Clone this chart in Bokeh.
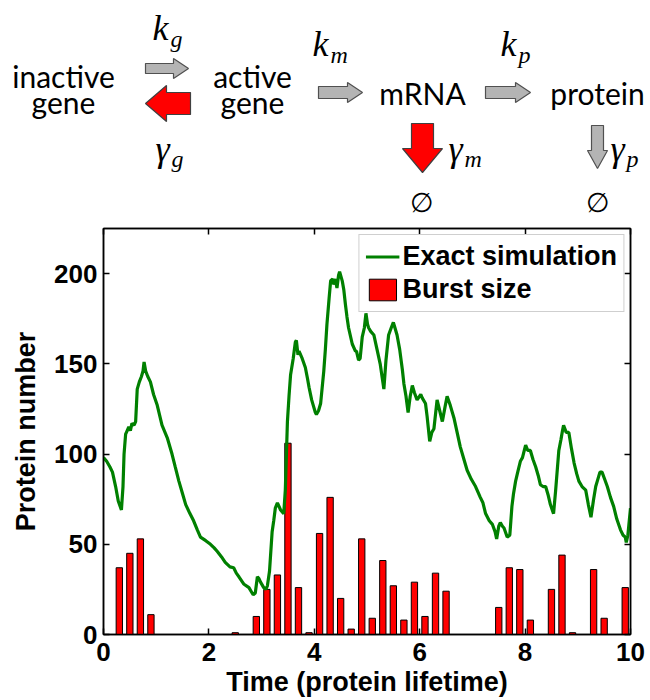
from bokeh.plotting import figure
from bokeh.models import (Range1d, LinearAxis, FixedTicker, Legend, LegendItem)
from bokeh.core.properties import value
from bokeh.embed import file_html
from bokeh.resources import INLINE

# ---------------- data ----------------
sim_time = [0.00, 0.06, 0.12, 0.17, 0.23, 0.28, 0.34, 0.37, 0.39, 0.42, 0.45, 0.48, 0.51, 0.54,
            0.58, 0.61, 0.64, 0.68, 0.72, 0.75, 0.77, 0.80, 0.84, 0.89, 0.95, 1.02, 1.11, 1.21,
            1.30, 1.36, 1.43, 1.50, 1.56, 1.64, 1.71, 1.78, 1.84, 1.94, 2.03, 2.10, 2.16, 2.24,
            2.31, 2.40, 2.47, 2.52, 2.57, 2.66, 2.76, 2.80, 2.84, 2.88, 2.92, 2.95, 2.98, 3.04,
            3.08, 3.11, 3.15, 3.20, 3.23, 3.26, 3.30, 3.36, 3.42, 3.45, 3.49, 3.52, 3.55, 3.60,
            3.64, 3.66, 3.69, 3.71, 3.77, 3.83, 3.87, 3.90, 3.95, 3.99, 4.02, 4.04, 4.08, 4.12,
            4.18, 4.21, 4.24, 4.28, 4.31, 4.35, 4.37, 4.40, 4.43, 4.46, 4.48, 4.53, 4.56, 4.59,
            4.62, 4.65, 4.72, 4.78, 4.80, 4.84, 4.87, 4.91, 4.95, 4.98, 5.01, 5.03, 5.07, 5.13,
            5.19, 5.25, 5.30, 5.32, 5.36, 5.41, 5.46, 5.50, 5.53, 5.57, 5.62, 5.67, 5.70, 5.74,
            5.78, 5.82, 5.86, 5.90, 5.95, 6.02, 6.05, 6.11, 6.14, 6.19, 6.23, 6.27, 6.33, 6.38,
            6.43, 6.48, 6.52, 6.58, 6.65, 6.71, 6.77, 6.84, 6.90, 6.98, 7.06, 7.15, 7.20, 7.25,
            7.32, 7.38, 7.43, 7.46, 7.50, 7.53, 7.57, 7.60, 7.66, 7.71, 7.73, 7.75, 7.78, 7.82,
            7.86, 7.91, 7.95, 8.01, 8.05, 8.10, 8.15, 8.20, 8.25, 8.29, 8.34, 8.39, 8.44, 8.48,
            8.54, 8.58, 8.64, 8.68, 8.71, 8.73, 8.78, 8.83, 8.88, 8.93, 8.98, 9.02, 9.08, 9.15,
            9.20, 9.25, 9.30, 9.34, 9.37, 9.42, 9.46, 9.51, 9.56, 9.62, 9.68, 9.74, 9.81, 9.86,
            9.90, 9.92, 9.95, 9.97, 10.00]
sim_protein = [98, 96, 93, 90, 82, 74, 69, 82, 100, 111, 113, 115, 113, 117,
               116, 118, 136, 140, 143, 146, 151, 146, 143, 140, 133, 127, 116, 109,
               100, 93, 85, 78, 72, 67, 63, 58, 54, 52, 50, 48, 46, 43,
               40, 37.5, 37, 34, 32, 28, 26, 24, 22, 23, 32, 31, 29, 26,
               25, 27, 35, 57, 63, 70, 73, 69, 67, 80, 118, 132, 144, 153,
               162, 163, 155, 157, 153, 148, 142, 137, 130, 126, 123, 122, 124, 128,
               146, 158, 172, 186, 196, 197, 194, 197, 192, 199, 201, 196, 191, 183,
               176, 170, 161, 157, 157, 152, 153, 165, 170, 178, 172, 170, 168, 166,
               158, 150, 140, 136, 152, 166, 170, 173, 170, 166, 158, 147, 139, 132,
               123, 132, 138, 134, 130, 133, 131, 128, 121, 107, 112, 114, 130, 124,
               118, 126, 132, 127, 120, 112, 104, 97, 91, 86, 82, 76, 73, 67,
               63, 61, 57, 53, 60, 62, 60, 59, 54, 55, 63, 71, 78, 85,
               90, 96, 98, 105, 102, 102, 97, 93, 88, 83, 82, 82, 77, 72,
               67, 80, 102, 108, 113, 116, 112, 112, 103, 95, 89, 85, 82, 80,
               72, 65, 75, 82, 85, 90, 90, 86, 82, 76, 71, 64, 58, 55,
               54, 51, 55, 61, 70]

burst_time = [0.3, 0.5, 0.7, 0.9, 2.5, 2.9, 3.1, 3.3, 3.5, 3.7, 3.9, 4.1, 4.3, 4.5, 4.7, 4.9,
              5.1, 5.3, 5.5, 5.7, 5.9, 6.1, 6.3, 6.5, 7.5, 7.7, 7.9, 8.1, 8.5, 8.7, 8.9,
              9.3, 9.5, 9.9]
burst_size = [37, 45, 53, 11, 1, 10, 25, 33, 106, 26, 1, 56, 76, 20, 3, 53,
              9, 41, 27, 8, 29, 10, 34, 24, 15, 37, 36, 8, 25, 44, 1,
              36, 9, 26]

x_ticks = [0, 2, 4, 6, 8, 10]
y_ticks = [0, 50, 100, 150, 200]
series_names = ["Exact simulation", "Burst size"]

# ---------------- reaction scheme (top, separate root so frames are not aligned) ----------------
top = figure(width=650, height=220, x_range=Range1d(0, 650), y_range=Range1d(220, 0),
             toolbar_location=None, output_backend="svg", min_border=0,
             x_axis_location=None, y_axis_location=None)
top.grid.visible = False
top.outline_line_color = None


def harrow(x0, x1, xh, cy, sh, hh):
    return ([x0, xh, xh, x1, xh, xh, x0], [cy - sh, cy - sh, cy - hh, cy, cy + hh, cy + sh, cy + sh])


def varrow(cx, y0, y1, yh, sh, hh):
    return ([cx - sh, cx - sh, cx - hh, cx, cx + hh, cx + sh, cx + sh], [y0, yh, yh, y1, yh, yh, y0])


gray_arrows = [harrow(145, 188, 173, 68, 5, 10), harrow(318, 362, 347, 92, 6, 10),
               harrow(485, 530, 515, 92, 6, 10), varrow(597, 125, 168, 150, 6, 10)]
red_arrows = [harrow(190, 145, 166, 103, 11, 18), varrow(422, 123, 172, 148, 11, 20)]
top.patches([a[0] for a in gray_arrows], [a[1] for a in gray_arrows],
            fill_color="#b4b4b4", line_color="#505050", line_width=1.2)
top.patches([a[0] for a in red_arrows], [a[1] for a in red_arrows],
            fill_color="#ff0000", line_color="#404040", line_width=1.2)

species_x = [63, 63, 252, 252, 422, 597]
species_y = [75, 101, 75, 101, 92, 92]
species_text = ["inactive", "gene", "active", "gene", "mRNA", "protein"]
top.text(x=species_x, y=species_y, text=species_text, text_font=value("Lato"),
         text_font_size="30px", text_align="center", text_baseline="middle",
         text_color="black")

serif = value("Liberation Serif")
top.text(x=[160, 320, 508, 162, 455, 617], y=[27, 43, 43, 148, 148, 148],
         text=["k", "k", "k", "γ", "γ", "γ"],
         text_font=serif, text_font_style="italic", text_font_size="36px",
         text_align="center", text_baseline="middle")
top.text(x=[170, 330, 518, 171, 464, 626], y=[38, 54, 54, 158, 158, 158],
         text=["g", "m", "p", "g", "m", "p"],
         text_font=serif, text_font_style="italic", text_font_size="24px",
         text_align="left", text_baseline="middle")
top.text(x=[421, 597], y=[202, 202], text=["∅", "∅"],
         text_font=value("DejaVu Serif"), text_font_size="27px",
         text_align="center", text_baseline="middle")

# ---------------- main chart ----------------
p = figure(width=650, height=480, x_range=Range1d(0, 10), y_range=Range1d(0, 225),
           toolbar_location=None, output_backend="svg",
           min_border_left=103, min_border_right=20, min_border_top=8, min_border_bottom=66)
p.grid.visible = False
p.outline_line_color = "black"
p.outline_line_width = 1.5

bars = p.vbar(x=burst_time, top=burst_size, width=0.12, bottom=0,
              fill_color="#ff0000", line_color="black", line_width=1)
line = p.line(sim_time, sim_protein, line_color="#008000", line_width=3.2)

for ax, ticks in ((p.xaxis[0], x_ticks), (p.yaxis[0], y_ticks)):
    ax.ticker = FixedTicker(ticks=ticks)
    ax.major_label_text_font = "Liberation Sans"
    ax.major_label_text_font_style = "bold"
    ax.major_label_text_font_size = "26px"
    ax.major_label_text_color = "black"
    ax.axis_label_text_font = "Liberation Sans"
    ax.axis_label_text_font_style = "bold"
    ax.axis_label_text_font_size = "27px"
    ax.axis_label_text_color = "black"
    ax.minor_tick_line_color = None
    ax.major_tick_in = 6
    ax.major_tick_out = 0
    ax.axis_line_width = 1.5
    ax.major_tick_line_width = 1.5

p.xaxis[0].axis_label = "Time (protein lifetime)"
p.yaxis[0].axis_label = "Protein number"
p.xaxis[0].major_label_standoff = 8
p.xaxis[0].axis_label_standoff = 3
p.yaxis[0].major_label_standoff = 6
p.yaxis[0].axis_label_standoff = 10

for loc, ticks in (("above", x_ticks), ("right", y_ticks)):
    ax = LinearAxis(ticker=FixedTicker(ticks=ticks), major_label_text_font_size="0px",
                    major_tick_in=6, major_tick_out=0, minor_tick_line_color=None,
                    major_label_standoff=0, axis_line_width=1.5, major_tick_line_width=1.5)
    p.add_layout(ax, loc)

legend = Legend(items=[LegendItem(label=series_names[0], renderers=[line]),
                       LegendItem(label=series_names[1], renderers=[bars])],
                location="top_right")
legend.label_text_font = "Liberation Sans"
legend.label_text_font_style = "bold"
legend.label_text_font_size = "27px"
legend.label_text_color = "black"
legend.glyph_width = 34
legend.glyph_height = 27
legend.label_standoff = 3
legend.padding = 6
legend.spacing = 2
legend.margin = 6
legend.border_line_color = "#a0a0a0"
legend.border_line_width = 1
legend.background_fill_alpha = 1
p.add_layout(legend)

open("out.html", "w").write(file_html([top, p], INLINE))
